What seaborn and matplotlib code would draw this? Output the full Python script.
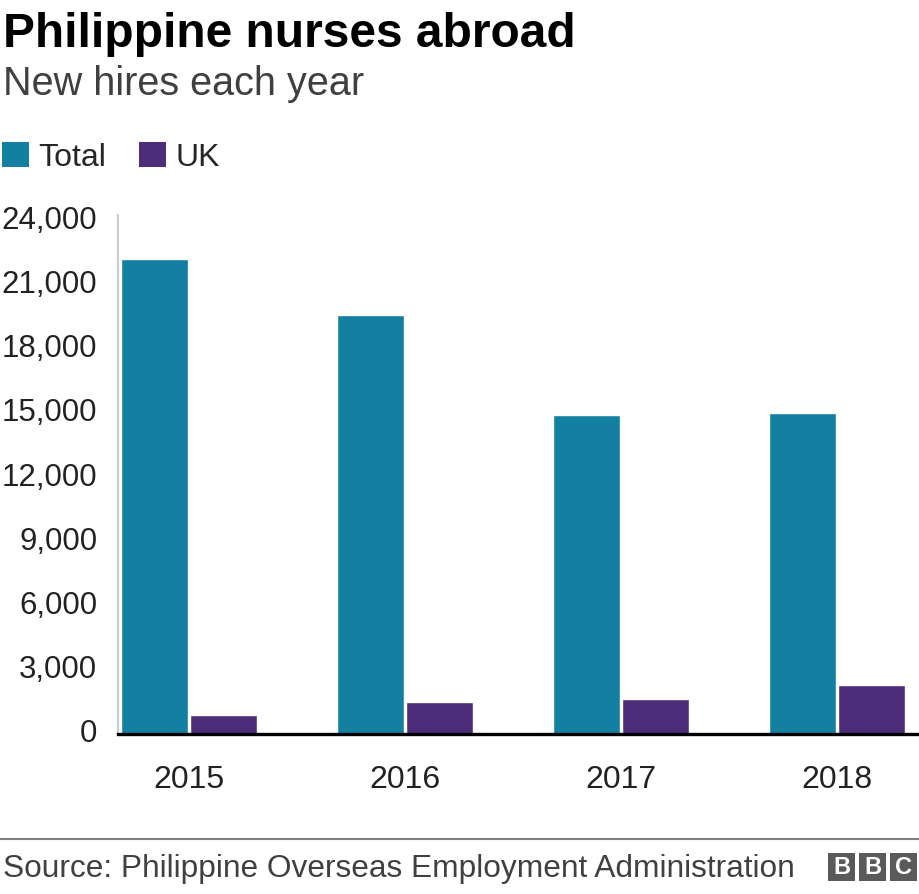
import pandas as pd
import numpy as np
import seaborn as sns
import matplotlib.pyplot as plt
from matplotlib.patches import Patch, Rectangle

# data
years = ["2015", "2016", "2017", "2018"]
total_hires = [22230, 19600, 14930, 15020]
uk_hires = [870, 1520, 1620, 2280]
series_names = ["Total", "UK"]
series_colors = ["#1380a1", "#4d2c7a"]
y_ticks = [0, 3000, 6000, 9000, 12000, 15000, 18000, 21000, 24000]

df = pd.DataFrame({
    "year": years * 2,
    "hires": total_hires + uk_hires,
    "series": [series_names[0]] * len(years) + [series_names[1]] * len(years),
})

sns.set_theme(style="white")
plt.rcParams["font.family"] = ["Liberation Sans", "DejaVu Sans"]

W, H = 920, 894
fig = plt.figure(figsize=(W / 100, H / 100), dpi=100)
ax = fig.add_axes([118 / W, 1 - 734 / H, 800 / W, (734 - 215) / H])

sns.barplot(
    data=df, x="year", y="hires", hue="series", order=years,
    hue_order=series_names, palette=series_colors,
    width=0.64, gap=0.03, saturation=1, legend=False, ax=ax,
)

ax.set_xlim(-0.3287, 3.375)
ax.set_ylim(0, 24281)
ax.set_yticks(y_ticks)
ax.set_yticklabels([f"{v:,}" for v in y_ticks])
ax.set_xlabel(""); ax.set_ylabel("")
ax.tick_params(axis="y", length=0, pad=15, labelsize=22.5, colors="#222222")
ax.tick_params(axis="x", length=0, pad=22.5, labelsize=23, colors="#222222")
for lbl in ax.get_yticklabels():
    lbl.set_verticalalignment("center")

for s in ["top", "right"]:
    ax.spines[s].set_visible(False)
ax.spines["left"].set_color("#cccccc")
ax.spines["left"].set_linewidth(1.5)
ax.spines["bottom"].set_color("black")
ax.spines["bottom"].set_linewidth(2.4)
ax.spines["bottom"].set_zorder(5)
ax.grid(False)

# title block
fig.text(3 / W, 1 - 47 / H, "Philippine nurses abroad", fontsize=34.5,
         fontweight="bold", color="black", va="baseline", ha="left")
fig.text(3 / W, 1 - 95 / H, "New hires each year", fontsize=28.5,
         color="#404040", va="baseline", ha="left")

# legend
handles = [Patch(facecolor=c, edgecolor="none", label=n)
           for n, c in zip(series_names, series_colors)]
fig.legend(handles=handles, loc="upper left", bbox_to_anchor=(2 / W, 1 - 142 / H),
           ncol=2, frameon=False, fontsize=23, handlelength=0.85, handleheight=0.85,
           handletextpad=0.3, columnspacing=1.0, borderpad=0, borderaxespad=0)

# footer
fig.add_artist(plt.Line2D([0, 1], [1 - 839 / H, 1 - 839 / H], transform=fig.transFigure,
                          color="#808080", linewidth=1.5))
fig.text(3 / W, 1 - 877 / H, "Source: Philippine Overseas Employment Administration",
         fontsize=22.8, color="#404040", va="baseline", ha="left")

for i, letter in enumerate("BBC"):
    x0 = 828 + i * 31
    fig.add_artist(Rectangle((x0 / W, 1 - 881 / H), 27 / W, 28 / H,
                             transform=fig.transFigure, facecolor="#5a5a5a",
                             edgecolor="none"))
    fig.text((x0 + 13.5) / W, 1 - 867 / H, letter, fontsize=17, fontweight="bold",
             color="white", ha="center", va="center")

fig.savefig("out.png", dpi=100)
